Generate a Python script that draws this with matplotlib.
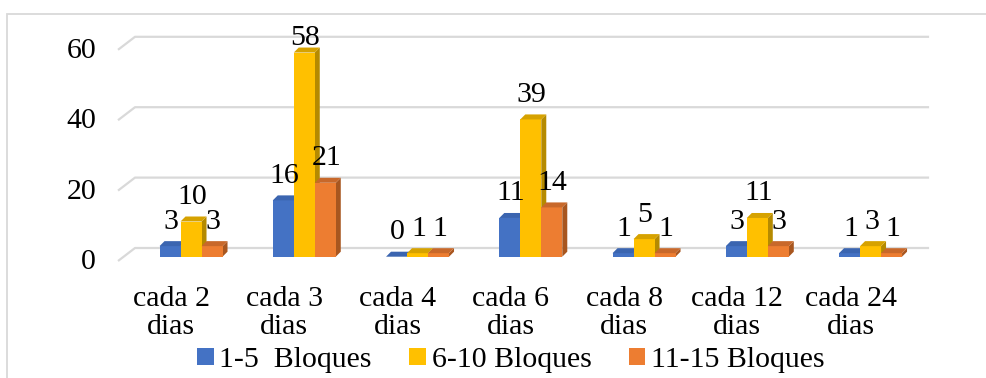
import numpy as np
import matplotlib
matplotlib.use("Agg")
import matplotlib.pyplot as plt
from matplotlib.patches import Polygon, Rectangle, Patch

plt.rcParams['font.family'] = ['Liberation Serif', 'DejaVu Serif']

# frequency categories and block-size series
categories = ['cada 2\ndias', 'cada 3\ndias', 'cada 4\ndias', 'cada 6\ndias',
              'cada 8\ndias', 'cada 12\ndias', 'cada 24\ndias']
series_names = ['1-5  Bloques', '6-10 Bloques', '11-15 Bloques']
blq_1_5 = [3, 16, 0, 11, 1, 3, 1]
blq_6_10 = [10, 58, 1, 39, 5, 11, 3]
blq_11_15 = [3, 21, 1, 14, 1, 3, 1]
yticks = [0, 20, 40, 60]

# front / top / side shades for the pseudo-3D bars
front_cols = ['#4472C4', '#FFC000', '#ED7D31']
top_cols = ['#3B65B0', '#D6A200', '#C8682A']
side_cols = ['#2F5597', '#B58A00', '#A8561F']

W, H = 986, 378
fig = plt.figure(figsize=(W / 100, H / 100), dpi=100)

# chart frame (only top and left edges fall inside the image)
fig.patches.append(Rectangle((7 / W, -0.1), 1.2, 1 - 13.5 / H + 0.1,
                             transform=fig.transFigure, fill=False,
                             edgecolor='#D9D9D9', lw=1.3))

# axes placed so that one x unit is one category and y is the count
ax = fig.add_axes([117.4 / W, (H - 256.7) / H, 821.1 / W, 211.2 / H])
ax.set_xlim(-0.65, 6.6)
ax.set_ylim(0, 60)
ax.axis('off')

px_x = 113.25  # pixels per category
px_y = 3.52    # pixels per unit

bw = 21 / px_x          # bar width
ddx = 5 / px_x          # bar depth (x)
ddy = 5 / px_y          # bar depth (y)
wall_dx = 17 / px_x     # floor depth
wall_back = 8.7 / px_y
wall_front = -4.3 / px_y
grid_left = -0.4945
grid_right = 6.517

fs = 21.5

# gridlines on the back wall plus the slanted left edge
for t in yticks:
    ax.plot([grid_left - wall_dx, grid_left, grid_right],
            [t + wall_front, t + wall_back, t + wall_back],
            color='#D9D9D9', lw=1.6, zorder=1, clip_on=False,
            solid_capstyle='butt')
    ax.text(grid_left - wall_dx - 22 / px_x, t + wall_front - 0.3, str(t),
            ha='right', va='center', fontsize=fs, clip_on=False)

x = np.arange(len(categories))
all_series = [blq_1_5, blq_6_10, blq_11_15]

for i in range(len(categories)):
    for k, vals in enumerate(all_series):
        v = vals[i]
        x0 = x[i] + (k - 1.5) * bw
        front = Polygon([(x0, 0), (x0 + bw, 0), (x0 + bw, v), (x0, v)],
                        closed=True, facecolor=front_cols[k], edgecolor='none',
                        zorder=3, clip_on=False)
        top = Polygon([(x0, v), (x0 + bw, v), (x0 + bw + ddx, v + ddy),
                       (x0 + ddx, v + ddy)], closed=True,
                      facecolor=top_cols[k], edgecolor='none', zorder=3,
                      clip_on=False)
        side = Polygon([(x0 + bw, 0), (x0 + bw + ddx, ddy),
                        (x0 + bw + ddx, v + ddy), (x0 + bw, v)], closed=True,
                       facecolor=side_cols[k], edgecolor='none', zorder=3,
                       clip_on=False)
        for p in (side, front, top):
            ax.add_patch(p)
        # labels sit above the bar, but stay inside the plot for tall bars
        ly = min(v + 24.5 / px_y, 62.0)
        ax.text(x0 + bw / 2 + 1 / px_x, ly, str(v), ha='center', va='center',
                fontsize=fs, zorder=5, clip_on=False)

# category labels
for i, lab in enumerate(categories):
    ax.text(x[i] - 20 / px_x, -29 / px_y, lab, ha='center', va='top',
            multialignment='center', fontsize=fs, linespacing=1.12,
            clip_on=False)

handles = [Patch(facecolor=c, edgecolor='none') for c in front_cols]
fig.legend(handles, series_names, loc='center',
           bbox_to_anchor=(511 / W, 1 - 360 / H), ncol=3, frameon=False,
           fontsize=fs, handlelength=0.55, handleheight=0.52,
           handletextpad=0.2, columnspacing=1.25, borderpad=0)

fig.savefig('out.png', dpi=100)
